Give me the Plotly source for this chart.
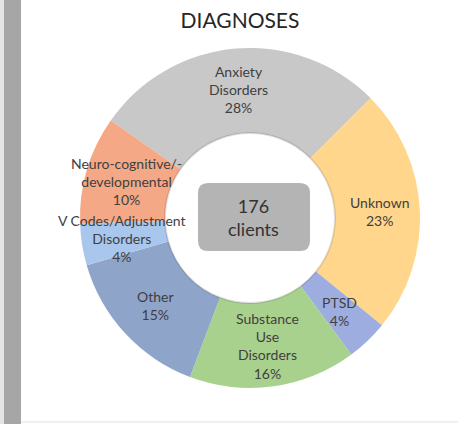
import math
import plotly.graph_objects as go

W, H = 458, 424

# Data
labels = ["Anxiety<br>Disorders", "Unknown", "PTSD", "Substance<br>Use<br>Disorders",
          "Other", "V Codes/Adjustment<br>Disorders", "Neuro-cognitive/-<br>developmental"]
clients = [49, 41, 7, 28, 26, 7, 18]
colors = ["#c8c8c8", "#ffd68b", "#9dade0", "#a9d18e", "#8fa4c9", "#a9c7ec", "#f4a886"]
total_label = "176<br>clients"

# Geometry of the donut (pixels)
cx, cy, R = 250, 218, 170
rotation = -55


def px(x):
    return x / W


def py(y):
    return 1 - y / H


fig = go.Figure()
fig.add_trace(go.Pie(
    labels=labels,
    values=clients,
    hole=0.5,
    sort=False,
    direction="clockwise",
    rotation=rotation,
    marker=dict(colors=colors, line=dict(width=0)),
    textinfo="none",
    hoverinfo="label+percent",
    showlegend=False,
    domain=dict(x=[px(cx - R), px(cx + R)], y=[py(cy + R), py(cy - R)]),
))

# slice labels at the middle of each slice
total = sum(clients)
annotations = []
start = rotation
for lab, v in zip(labels, clients):
    ang = start + 360 * v / total / 2
    start += 360 * v / total
    rr = 0.76 * R
    x = cx + rr * math.sin(math.radians(ang))
    y = cy - rr * math.cos(math.radians(ang))
    pct = round(100 * v / total)
    annotations.append(dict(
        x=px(x), y=py(y), xref="paper", yref="paper", showarrow=False,
        xanchor="center", yanchor="middle",
        text=f"{lab}<br>{pct}%", align="center",
        font=dict(family="Lato", size=14, color="#404040"),
    ))

annotations.append(dict(
    x=px(254), y=py(217), xref="paper", yref="paper", showarrow=False,
    xanchor="center", yanchor="middle",
    text=total_label, align="center",
    font=dict(family="Lato", size=18, color="#333333"),
))

# rounded box in the middle
x0, x1, y0, y1, r = 198, 310, 183, 251, 10
rx, ry = r / W, r / H
X0, X1, Y0, Y1 = px(x0), px(x1), py(y1), py(y0)
box = (f"M {X0+rx},{Y0} L {X1-rx},{Y0} Q {X1},{Y0} {X1},{Y0+ry} "
       f"L {X1},{Y1-ry} Q {X1},{Y1} {X1-rx},{Y1} L {X0+rx},{Y1} "
       f"Q {X0},{Y1} {X0},{Y1-ry} L {X0},{Y0+ry} Q {X0},{Y0} {X0+rx},{Y0} Z")

shapes = [
    dict(type="rect", xref="paper", yref="paper", x0=0, x1=px(4), y0=0, y1=1,
         fillcolor="#e4e4e4", line=dict(width=0)),
    dict(type="rect", xref="paper", yref="paper", x0=px(4), x1=px(21), y0=0, y1=1,
         fillcolor="#a6a6a6", line=dict(width=0)),
    dict(type="line", xref="paper", yref="paper", x0=px(21), x1=1, y0=py(422), y1=py(422),
         line=dict(color="#f0f0f0", width=2)),
    dict(type="circle", xref="paper", yref="paper",
         x0=px(cx - R / 2), x1=px(cx + R / 2), y0=py(cy + R / 2), y1=py(cy - R / 2),
         line=dict(color="rgba(0,0,0,0.12)", width=2)),
    dict(type="path", xref="paper", yref="paper", path=box,
         fillcolor="#b4b4b4", line=dict(width=0)),
]

fig.update_layout(
    width=W, height=H,
    margin=dict(l=0, r=0, t=0, b=0),
    paper_bgcolor="white",
    plot_bgcolor="white",
    title=dict(text="DIAGNOSES", x=px(240), xanchor="center", y=py(21), yanchor="middle",
               font=dict(family="Lato", size=21, color="#262626")),
    annotations=annotations,
    shapes=shapes,
)

# page body has a default margin; remove it so the figure fills the window
fig.write_html("out.html", config={"displayModeBar": False},
               post_script="document.body.style.margin='0';")
